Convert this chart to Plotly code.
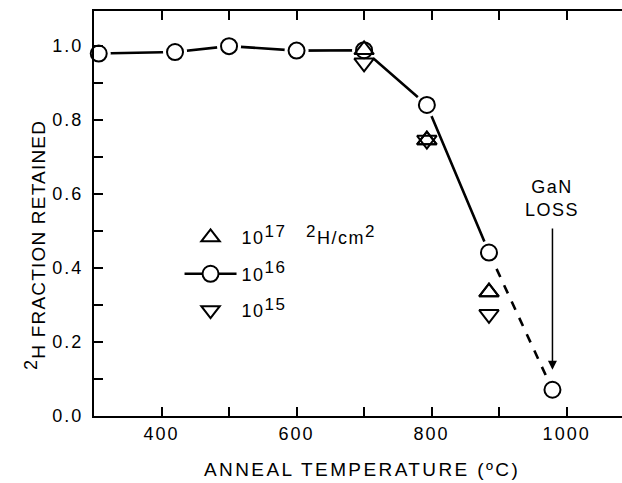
import plotly.graph_objects as go

# Data
temp_16 = [307, 420, 500, 600, 700, 793, 885]
frac_16 = [0.980, 0.984, 1.000, 0.988, 0.989, 0.841, 0.442]
temp_16_dash = [885, 979]
frac_16_dash = [0.442, 0.071]
temp_17 = [700, 793, 885]
frac_17 = [0.990, 0.746, 0.335]
temp_15 = [700, 793, 885]
frac_15 = [0.955, 0.746, 0.275]

xticks = [300, 400, 500, 600, 700, 800, 900, 1000]
xtick_labels = ["", "400", "", "600", "", "800", "", "1000"]
yticks = [0.0, 0.1, 0.2, 0.3, 0.4, 0.5, 0.6, 0.7, 0.8, 0.9, 1.0]
ytick_labels = ["0.0", "", "0.2", "", "0.4", "", "0.6", "", "0.8", "", "1.0"]

FONT = "Liberation Sans, Arial, sans-serif"


def ls(t, px):
    if not t:
        return ""
    return '<span style="letter-spacing:%spx">%s</span>' % (px, t)


def sup(t, px=17):
    return '<sup><span style="font-size:%spx">%s</span></sup>' % (px, t)


fig = go.Figure()

all_x_circ = temp_16 + temp_16_dash[1:]
all_y_circ = frac_16 + frac_16_dash[1:]

# 10^17 (up triangles)
fig.add_trace(go.Scatter(
    x=temp_17, y=frac_17, mode="markers",
    name=ls("10" + sup("17") + "&nbsp;&nbsp; " + sup("2") + "H/cm" + sup("2"), 1.5),
    legendgroup="a",
    marker=dict(symbol="triangle-up-open", size=17, color="black", line=dict(width=2)),
    cliponaxis=False,
))
# 10^16 line+circles (legend carrier)
fig.add_trace(go.Scatter(
    x=temp_16, y=frac_16, mode="lines+markers",
    name=ls("10" + sup("16"), 1.5), legendgroup="b",
    line=dict(color="black", width=2.6),
    marker=dict(symbol="circle", size=16, color="white", line=dict(color="black", width=2)),
    cliponaxis=False,
))
fig.add_trace(go.Scatter(
    x=temp_16_dash, y=frac_16_dash, mode="lines", showlegend=False,
    line=dict(color="black", width=2.6, dash="dash"),
    cliponaxis=False,
))
# white halo to create gaps between line and circles
fig.add_trace(go.Scatter(
    x=all_x_circ, y=all_y_circ, mode="markers", showlegend=False,
    marker=dict(symbol="circle", size=24, color="white", line=dict(width=0)),
    cliponaxis=False, hoverinfo="skip",
))
fig.add_trace(go.Scatter(
    x=all_x_circ, y=all_y_circ, mode="markers", showlegend=False,
    marker=dict(symbol="circle", size=16, color="white", line=dict(color="black", width=2)),
    cliponaxis=False,
))
# redraw triangles on top
fig.add_trace(go.Scatter(
    x=temp_17, y=frac_17, mode="markers", showlegend=False,
    marker=dict(symbol="triangle-up-open", size=17, color="black", line=dict(width=2)),
    cliponaxis=False,
))
# 10^15 (down triangles)
fig.add_trace(go.Scatter(
    x=temp_15, y=frac_15, mode="markers",
    name=ls("10" + sup("15"), 1.5), legendgroup="c",
    marker=dict(symbol="triangle-down-open", size=17, color="black", line=dict(width=2)),
    cliponaxis=False,
))

fig.update_layout(
    width=622, height=483,
    margin=dict(l=94, r=0, t=11, b=67),
    paper_bgcolor="white", plot_bgcolor="white",
    font=dict(family=FONT, size=18, color="black"),
    showlegend=True,
    legend=dict(
        x=0.162, y=0.486, xanchor="left", yanchor="top",
        bgcolor="rgba(0,0,0,0)", borderwidth=0,
        font=dict(family=FONT, size=18, color="black"),
        itemwidth=52, tracegroupgap=10, itemsizing="trace",
    ),
    xaxis=dict(
        range=[300, 1082], tickmode="array", tickvals=xticks,
        ticktext=[ls(t, 2) for t in xtick_labels],
        ticks="inside", ticklen=9, tickwidth=2, tickcolor="black",
        showline=True, linewidth=2, linecolor="black", mirror="ticks",
        showgrid=False, zeroline=False,
        tickfont=dict(family=FONT, size=18, color="black"),
    ),
    yaxis=dict(
        range=[0, 1.095], tickmode="array", tickvals=yticks,
        ticktext=[ls(t, 2) for t in ytick_labels],
        ticks="inside", ticklen=9, tickwidth=2, tickcolor="black",
        showline=True, linewidth=2, linecolor="black", mirror=False,
        showgrid=False, zeroline=False, ticklabelstandoff=5,
        tickfont=dict(family=FONT, size=18, color="black"),
    ),
    annotations=[
        dict(text=ls("ANNEAL TEMPERATURE (ºC)", 2.4), xref="paper", yref="paper",
             x=0.5085, y=-0.1333, xanchor="center", yanchor="middle", showarrow=False,
             font=dict(family=FONT, size=19, color="black")),
        dict(text=ls(sup("2", 18) + "H FRACTION RETAINED", 1.2), xref="paper", yref="paper",
             x=-0.112, y=0.422, xanchor="center", yanchor="middle", showarrow=False,
             textangle=-90, font=dict(family=FONT, size=19, color="black")),
        dict(text=ls("GaN<br>LOSS", 1.5), x=979, y=0.589, xref="x", yref="y",
             xanchor="center", yanchor="middle", showarrow=False,
             font=dict(family=FONT, size=18, color="black")),
        dict(text="", x=979, y=0.125, xref="x", yref="y", ax=979, ay=0.511,
             axref="x", ayref="y", showarrow=True, arrowhead=2, arrowsize=1.2,
             arrowwidth=1.5, arrowcolor="black", standoff=0),
    ],
)

fig.write_html("out.html", config={"displayModeBar": False},
               post_script="document.body.style.margin='0px';")
